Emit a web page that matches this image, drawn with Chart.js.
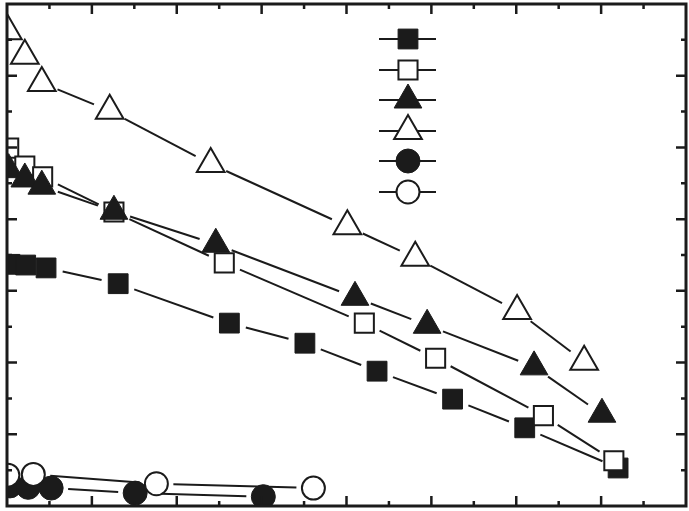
<!DOCTYPE html>
<html>
<head>
<meta charset="utf-8">
<script src="https://cdn.jsdelivr.net/npm/chart.js@4.4.1/dist/chart.umd.min.js"></script>
<style>
  html, body { margin: 0; padding: 0; background: #fff; }
  #wrap { width: 689px; height: 511px; position: relative; }
</style>
</head>
<body>
<div id="wrap"><canvas id="chart"></canvas></div>
<script>
// values (plot units: x 0-80, y 0-70)
const filledSquareX = [0.35, 2.2, 4.6, 13.1, 26.2, 35.1, 43.6, 52.5, 61.0, 72.0];
const filledSquareY = [33.7, 33.6, 33.2, 31.0, 25.5, 22.7, 18.8, 14.9, 10.9, 5.3];

const openSquareX = [0.2, 2.1, 4.2, 12.6, 25.6, 42.1, 50.5, 63.2, 71.5];
const openSquareY = [49.9, 47.4, 45.9, 41.0, 33.9, 25.5, 20.6, 12.6, 6.3];

const filledTriangleX = [0.2, 2.1, 4.1, 12.6, 24.6, 41.0, 49.5, 62.1, 70.1];
const filledTriangleY = [46.9, 45.6, 44.6, 41.1, 36.5, 29.1, 25.2, 19.4, 12.8];

const openTriangleX = [0.1, 2.1, 4.1, 12.1, 24.0, 40.1, 48.1, 60.1, 68.0];
const openTriangleY = [66.2, 62.8, 59.0, 55.1, 47.7, 39.0, 34.6, 27.2, 20.1];

const filledCircleX = [0.35, 2.5, 5.2, 15.1, 30.2];
const filledCircleY = [2.8, 2.6, 2.5, 1.8, 1.3];

const openCircleX = [0.1, 3.1, 17.6, 36.1];
const openCircleY = [4.3, 4.4, 3.1, 2.5];

const xMax = 80, yMax = 70;
const majorStep = 10, minorStep = 5;

const ink = '#1b1b1b';
const GAP = 17; // gap between connecting lines and markers

function pts(xs, ys) {
  return xs.map((x, i) => ({ x: x, y: ys[i] }));
}

const styles = {
  filledSquare:   { pointStyle: 'rect',     radius: 14, fill: ink },
  openSquare:     { pointStyle: 'rect',     radius: 13.5, fill: '#fff' },
  filledTriangle: { pointStyle: 'triangle', radius: 16, fill: ink },
  openTriangle:   { pointStyle: 'triangle', radius: 16, fill: '#fff' },
  filledCircle:   { pointStyle: 'circle',   radius: 12, fill: ink },
  openCircle:     { pointStyle: 'circle',   radius: 11.5, fill: '#fff' }
};

function dataset(key, xs, ys) {
  const s = styles[key];
  return {
    label: key,
    data: pts(xs, ys),
    showLine: false,
    pointStyle: s.pointStyle,
    pointRadius: s.radius,
    pointBackgroundColor: s.fill,
    pointBorderColor: ink,
    pointBorderWidth: s.fill === '#fff' ? 2 : 1
  };
}

// connecting lines that stop short of the markers
const gappedLines = {
  id: 'gappedLines',
  beforeDatasetsDraw(chart) {
    const ctx = chart.ctx, a = chart.chartArea;
    ctx.save();
    ctx.beginPath();
    ctx.rect(a.left, a.top, a.right - a.left, a.bottom - a.top);
    ctx.clip();
    ctx.strokeStyle = ink;
    ctx.lineWidth = 2;
    chart.data.datasets.forEach((ds, i) => {
      const p = chart.getDatasetMeta(i).data;
      for (let k = 1; k < p.length; k++) {
        const dx = p[k].x - p[k - 1].x, dy = p[k].y - p[k - 1].y;
        const len = Math.hypot(dx, dy);
        if (len <= 2 * GAP) continue;
        const ux = dx / len, uy = dy / len;
        ctx.beginPath();
        ctx.moveTo(p[k - 1].x + ux * GAP, p[k - 1].y + uy * GAP);
        ctx.lineTo(p[k].x - ux * GAP, p[k].y - uy * GAP);
        ctx.stroke();
      }
    });
    ctx.restore();
  }
};

// frame with inward ticks on all four sides
const frame = {
  id: 'frame',
  afterDraw(chart) {
    const ctx = chart.ctx, a = chart.chartArea;
    const xs = chart.scales.x, ys = chart.scales.y;
    ctx.save();
    ctx.strokeStyle = ink;
    ctx.lineWidth = 2.5;
    for (let v = minorStep; v < xMax; v += minorStep) {
      const px = xs.getPixelForValue(v);
      const len = v % majorStep === 0 ? 10 : 5;
      ctx.beginPath();
      ctx.moveTo(px, a.top); ctx.lineTo(px, a.top + len);
      ctx.moveTo(px, a.bottom); ctx.lineTo(px, a.bottom - len);
      ctx.stroke();
    }
    for (let v = minorStep; v < yMax; v += minorStep) {
      const py = ys.getPixelForValue(v);
      const len = v % majorStep === 0 ? 10 : 5;
      ctx.beginPath();
      ctx.moveTo(a.left, py); ctx.lineTo(a.left + len, py);
      ctx.moveTo(a.right, py); ctx.lineTo(a.right - len, py);
      ctx.stroke();
    }
    ctx.lineWidth = 3;
    ctx.strokeRect(a.left, a.top, a.right - a.left, a.bottom - a.top);
    ctx.restore();
  }
};

// symbol-only key
const legendOrder = ['filledSquare', 'openSquare', 'filledTriangle', 'openTriangle', 'filledCircle', 'openCircle'];
const keyBox = {
  id: 'keyBox',
  afterDraw(chart) {
    const ctx = chart.ctx;
    const cx = 408, x0 = 379, x1 = 436;
    const rows = [39, 70, 100, 131, 161, 192];
    ctx.save();
    legendOrder.forEach((key, i) => {
      const s = styles[key];
      const y = rows[i];
      ctx.strokeStyle = ink;
      ctx.lineWidth = 2;
      ctx.beginPath();
      ctx.moveTo(x0, y); ctx.lineTo(x1, y);
      ctx.stroke();
      ctx.fillStyle = s.fill;
      ctx.lineWidth = s.fill === '#fff' ? 2 : 1;
      Chart.helpers.drawPoint(ctx, { pointStyle: s.pointStyle, radius: s.radius, rotation: 0, borderWidth: ctx.lineWidth }, cx, y);
    });
    ctx.restore();
  }
};

new Chart(document.getElementById('chart'), {
  type: 'scatter',
  data: {
    datasets: [
      dataset('filledTriangle', filledTriangleX, filledTriangleY),
      dataset('openTriangle', openTriangleX, openTriangleY),
      dataset('openSquare', openSquareX, openSquareY),
      dataset('filledSquare', filledSquareX, filledSquareY),
      dataset('openCircle', openCircleX, openCircleY),
      dataset('filledCircle', filledCircleX, filledCircleY)
    ]
  },
  options: {
    responsive: true,
    maintainAspectRatio: false,
    animation: false,
    events: [],
    layout: { autoPadding: false, padding: { left: 7, top: 4, right: 3, bottom: 5 } },
    plugins: {
      legend: { display: false },
      tooltip: { enabled: false }
    },
    scales: {
      x: { type: 'linear', min: 0, max: xMax, display: false },
      y: { type: 'linear', min: 0, max: yMax, display: false }
    }
  },
  plugins: [gappedLines, frame, keyBox]
});
</script>
</body>
</html>
